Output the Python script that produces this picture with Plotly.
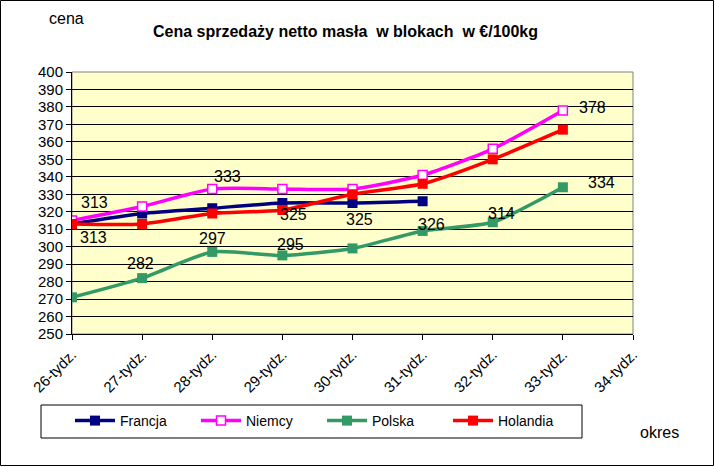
import plotly.graph_objects as go

categories = ["26-tydz.", "27-tydz.", "28-tydz.", "29-tydz.", "30-tydz.",
              "31-tydz.", "32-tydz.", "33-tydz.", "34-tydz."]
francja = [313, 319, 322, 325, 325, 326, None, None, None]
niemcy = [315, 323, 333, 333, 333, 341, 356, 378, None]
polska = [271, 282, 297, 295, 299, 309, 314, 334, None]
holandia = [313, 313, 319, 321, 330, 336, 350, 367, None]

y_ticks = list(range(250, 401, 10))

# data labels: (series, category index, xshift px, yshift px)
label_specs = [
    ("Francja", 0, 22, 21),
    ("Holandia", 0, 21, -14),
    ("Polska", 1, -2, 15),
    ("Niemcy", 2, 15, 13),
    ("Polska", 2, 0, 13),
    ("Francja", 3, 11, -11),
    ("Polska", 3, 8, 11),
    ("Francja", 4, 7, -16),
    ("Francja", 5, 9, -23),
    ("Polska", 6, 9, 9),
    ("Niemcy", 7, 30, 3),
    ("Polska", 7, 39, 5),
]

W, H = 715, 467
L, R, T, B = 72, 82, 72, 133
pw, ph = W - L - R, H - T - B
FONT = "Liberation Sans, Arial"


def px_x(p):
    return (p - L) / pw


def px_y(p):
    return (H - B - p) / ph


series = [
    ("Francja", francja, "#000080", dict(symbol="square", size=10, color="#000080")),
    ("Niemcy", niemcy, "#FF00FF", dict(symbol="square", size=9, color="#FFFFFF",
                                       line=dict(color="#FF00FF", width=1.5))),
    ("Polska", polska, "#339966", dict(symbol="square", size=10, color="#339966")),
    ("Holandia", holandia, "#FF0000", dict(symbol="square", size=10, color="#FF0000")),
]
data_map = {name: vals for name, vals, _, _ in series}

fig = go.Figure()
xs = list(range(len(categories)))
for name, vals, color, marker in series:
    fig.add_trace(go.Scatter(
        x=xs, y=vals, name=name, mode="lines+markers",
        line=dict(color=color, width=3.5, shape="spline", smoothing=0.6),
        marker=marker, connectgaps=False,
    ))

annotations = []
for name, idx, dx, dy in label_specs:
    v = data_map[name][idx]
    annotations.append(dict(
        x=idx, y=v, xref="x", yref="y", text=str(v), showarrow=False,
        xanchor="center", yanchor="middle",
        xshift=dx, yshift=dy, font=dict(family=FONT, size=16, color="black"),
    ))

annotations += [
    dict(x=px_x(66), y=px_y(19), xref="paper", yref="paper", text="cena", showarrow=False,
         xanchor="center", yanchor="middle",
         font=dict(family=FONT, size=16, color="black")),
    dict(x=px_x(659), y=px_y(432), xref="paper", yref="paper", text="okres", showarrow=False,
         xanchor="center", yanchor="middle",
         font=dict(family=FONT, size=16, color="black")),
    dict(x=px_x(345), y=px_y(31), xref="paper", yref="paper",
         text="<b>Cena sprzedaży netto masła  w blokach  w €/100kg</b>", showarrow=False,
         xanchor="center", yanchor="middle",
         font=dict(family=FONT, size=16, color="black")),
]

shapes = [
    # outer chart border
    dict(type="rect", xref="paper", yref="paper",
         x0=px_x(0.5), x1=px_x(W - 1.5), y0=px_y(H - 1.5), y1=px_y(0.5),
         line=dict(color="black", width=1), layer="above"),
    # plot area border
    dict(type="rect", xref="paper", yref="paper", x0=0, x1=1, y0=0, y1=1,
         line=dict(color="#808080", width=1), layer="below"),
    # legend box
    dict(type="rect", xref="paper", yref="paper",
         x0=px_x(41), x1=px_x(582), y0=px_y(438), y1=px_y(405),
         line=dict(color="black", width=1), layer="above"),
]

fig.update_layout(
    width=W, height=H,
    margin=dict(l=L, r=R, t=T, b=B, pad=0),
    paper_bgcolor="white",
    plot_bgcolor="#FFFFCC",
    font=dict(family=FONT, size=12, color="black"),
    showlegend=True,
    legend=dict(orientation="h", x=px_x(70), y=px_y(421), xanchor="left", yanchor="middle",
                bgcolor="rgba(0,0,0,0)", borderwidth=0, entrywidth=71, entrywidthmode="pixels",
                itemwidth=40, font=dict(size=14, family=FONT),
                traceorder="normal"),
    annotations=annotations,
    shapes=shapes,
    xaxis=dict(range=[0, len(categories) - 1], tickvals=xs, ticktext=categories,
               tickangle=-45, showgrid=False, zeroline=False,
               showline=True, linecolor="black", linewidth=1,
               ticks="outside", ticklen=5, tickcolor="black",
               tickfont=dict(size=15), automargin=False),
    yaxis=dict(range=[250, 400], tickvals=y_ticks, showgrid=True, gridcolor="black",
               gridwidth=1, zeroline=False, showline=True, linecolor="black", linewidth=1,
               ticks="outside", ticklen=5, tickcolor="black",
               tickfont=dict(size=15), automargin=False),
)

fig.write_html("out.html", config={"displayModeBar": False},
               post_script="document.body.style.margin='0';document.body.style.padding='0';")
